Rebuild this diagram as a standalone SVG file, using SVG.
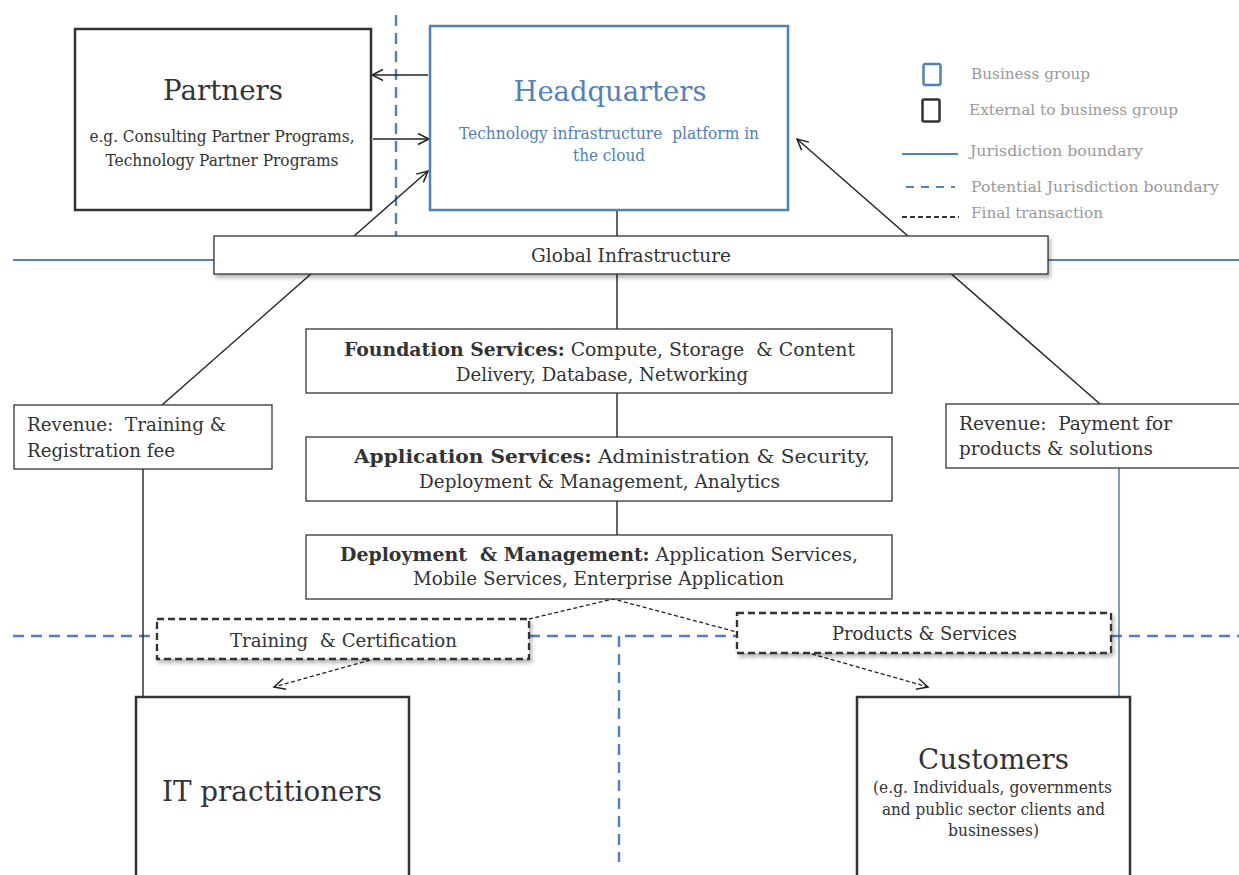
<svg xmlns="http://www.w3.org/2000/svg" width="1239" height="875" viewBox="0 0 1239 875">
<defs>
<style>
.t{font-family:"DejaVu Serif","Liberation Serif",serif;fill:#333}
.box{fill:#fff;stroke:#333;stroke-width:1.3}
.ext{fill:#fff;stroke:#333;stroke-width:2.5}
.bg{fill:#fff;stroke:#4f81bd;stroke-width:2.5}
.dbox{fill:#fff;stroke:#333;stroke-width:2.3;stroke-dasharray:7 4}
.conn{fill:none;stroke:#222;stroke-width:1.4}
.dconn{fill:none;stroke:#222;stroke-width:1.3;stroke-dasharray:4 2.5}
.jb{fill:none;stroke:#4f81bd;stroke-width:2.2}
.pjb{fill:none;stroke:#4f81bd;stroke-width:2.4;stroke-dasharray:11 7}
.leg{font-family:"DejaVu Serif","Liberation Serif",serif;fill:#999;font-size:14.5px}
</style>
<marker id="ah" markerWidth="14" markerHeight="14" refX="12" refY="6" orient="auto" markerUnits="userSpaceOnUse">
<path d="M1,0.5 L12,6 L1,11.5" fill="none" stroke="#222" stroke-width="1.5"/>
</marker>
<filter id="sh" x="-5%" y="-20%" width="110%" height="160%">
<feDropShadow dx="2" dy="3" stdDeviation="2" flood-color="#000" flood-opacity="0.3"/>
</filter>
</defs>
<rect width="1239" height="875" fill="#fff"/>

<g id="boundaries">
<line class="pjb" x1="396" y1="15" x2="396" y2="236"/>
<line class="jb" x1="13" y1="260" x2="214" y2="260"/>
<line class="jb" x1="1048" y1="260" x2="1239" y2="260"/>
<line class="pjb" x1="13" y1="636" x2="157" y2="636"/>
<polyline class="pjb" points="529,636 619,636 619,862"/>
<line class="pjb" x1="625" y1="636" x2="737" y2="636"/>
<line class="pjb" x1="1111" y1="636" x2="1239" y2="636"/>
</g>

<g id="connectors">
<line class="conn" x1="428" y1="75" x2="372" y2="75" marker-end="url(#ah)"/>
<line class="conn" x1="373" y1="139" x2="429" y2="139" marker-end="url(#ah)"/>
<line class="conn" x1="162" y1="405" x2="428" y2="171" marker-end="url(#ah)"/>
<line class="conn" x1="1100" y1="404" x2="797" y2="139" marker-end="url(#ah)"/>
<line class="conn" x1="617" y1="210" x2="617" y2="236"/>
<line class="conn" x1="617" y1="274" x2="617" y2="535"/>
<line class="conn" x1="143" y1="469" x2="143" y2="697" stroke-width="1.1"/>
<line x1="1119" y1="468" x2="1119" y2="696" stroke="#1f5f9f" stroke-width="1.2"/>
<polyline class="dconn" points="529,619 613,599 737,632"/>
<line class="dconn" x1="370" y1="660" x2="274" y2="687" marker-end="url(#ah)"/>
<line class="dconn" x1="812" y1="654" x2="928" y2="687" marker-end="url(#ah)"/>
</g>

<g id="partners">
<rect class="ext" x="75" y="29" width="296" height="181"/>
<text class="t" x="223" y="100" font-size="28" text-anchor="middle" textLength="120" lengthAdjust="spacingAndGlyphs">Partners</text>
<text class="t" x="222" y="142" font-size="16" text-anchor="middle" textLength="265" lengthAdjust="spacingAndGlyphs">e.g. Consulting Partner Programs,</text>
<text class="t" x="222" y="166" font-size="16" text-anchor="middle" textLength="233" lengthAdjust="spacingAndGlyphs">Technology Partner Programs</text>
</g>

<g id="headquarters">
<rect class="bg" x="430" y="26" width="358" height="184"/>
<text class="t" x="610" y="101" font-size="28" text-anchor="middle" style="fill:#4f81bd" textLength="193" lengthAdjust="spacingAndGlyphs">Headquarters</text>
<text class="t" x="609" y="139" font-size="16" text-anchor="middle" style="fill:#4f81bd" textLength="300" lengthAdjust="spacingAndGlyphs" xml:space="preserve">Technology infrastructure  platform in</text>
<text class="t" x="609" y="161" font-size="16" text-anchor="middle" style="fill:#4f81bd" textLength="72" lengthAdjust="spacingAndGlyphs">the cloud</text>
</g>

<g id="legend">
<rect x="923.5" y="64" width="17" height="21" rx="2" fill="none" stroke="#4f81bd" stroke-width="2.5"/>
<text class="leg" x="971" y="79" textLength="119" lengthAdjust="spacingAndGlyphs">Business group</text>
<rect x="922.5" y="99.5" width="17" height="22" rx="1.5" fill="none" stroke="#333" stroke-width="2.5"/>
<text class="leg" x="969" y="115" textLength="209" lengthAdjust="spacingAndGlyphs">External to business group</text>
<line x1="902" y1="154" x2="958" y2="154" stroke="#4f81bd" stroke-width="2.2"/>
<text class="leg" x="970" y="156" textLength="173" lengthAdjust="spacingAndGlyphs">Jurisdiction boundary</text>
<line x1="906" y1="187" x2="955" y2="187" stroke="#4f81bd" stroke-width="2.2" stroke-dasharray="8 7"/>
<text class="leg" x="971" y="192" textLength="248" lengthAdjust="spacingAndGlyphs">Potential Jurisdiction boundary</text>
<line x1="902" y1="217" x2="959" y2="217" stroke="#333" stroke-width="2" stroke-dasharray="5 3"/>
<text class="leg" x="971" y="218" textLength="132" lengthAdjust="spacingAndGlyphs">Final transaction</text>
</g>

<g id="global-infrastructure">
<rect class="box" x="214" y="236" width="834" height="38" filter="url(#sh)"/>
<text class="t" x="631" y="262" font-size="18.5" text-anchor="middle" textLength="200" lengthAdjust="spacingAndGlyphs">Global Infrastructure</text>
</g>

<g id="foundation-services">
<rect class="box" x="306" y="329" width="586" height="64"/>
<text class="t" x="599.5" y="356" font-size="18" text-anchor="middle" textLength="511" lengthAdjust="spacingAndGlyphs" xml:space="preserve"><tspan font-weight="bold">Foundation Services:</tspan> Compute, Storage  &amp; Content</text>
<text class="t" x="602" y="381" font-size="18" text-anchor="middle" textLength="292" lengthAdjust="spacingAndGlyphs">Delivery, Database, Networking</text>
</g>

<g id="application-services">
<rect class="box" x="306" y="437" width="586" height="64"/>
<text class="t" x="612" y="463" font-size="18" text-anchor="middle" textLength="516" lengthAdjust="spacingAndGlyphs"><tspan font-weight="bold">Application Services:</tspan> Administration &amp; Security,</text>
<text class="t" x="599.5" y="488" font-size="18" text-anchor="middle" textLength="361" lengthAdjust="spacingAndGlyphs">Deployment &amp; Management, Analytics</text>
</g>

<g id="deployment-management">
<rect class="box" x="306" y="535" width="586" height="64"/>
<text class="t" x="599" y="561" font-size="18" text-anchor="middle" textLength="518" lengthAdjust="spacingAndGlyphs" xml:space="preserve"><tspan font-weight="bold">Deployment  &amp; Management:</tspan> Application Services,</text>
<text class="t" x="598.5" y="585" font-size="18" text-anchor="middle" textLength="371" lengthAdjust="spacingAndGlyphs">Mobile Services, Enterprise Application</text>
</g>

<g id="revenue-training">
<rect class="box" x="14" y="405" width="258" height="64"/>
<text class="t" x="27" y="431" font-size="18" textLength="199" lengthAdjust="spacingAndGlyphs" xml:space="preserve">Revenue:  Training &amp;</text>
<text class="t" x="27" y="457" font-size="18" textLength="148" lengthAdjust="spacingAndGlyphs">Registration fee</text>
</g>

<g id="revenue-payment">
<rect class="box" x="946" y="404" width="300" height="64"/>
<text class="t" x="959" y="430" font-size="18" textLength="213" lengthAdjust="spacingAndGlyphs" xml:space="preserve">Revenue:  Payment for</text>
<text class="t" x="959" y="455" font-size="18" textLength="194" lengthAdjust="spacingAndGlyphs">products &amp; solutions</text>
</g>

<g id="training-certification">
<rect class="dbox" x="157" y="619" width="372" height="40" filter="url(#sh)"/>
<text class="t" x="343.5" y="647" font-size="18" text-anchor="middle" textLength="227" lengthAdjust="spacingAndGlyphs" xml:space="preserve">Training  &amp; Certification</text>
</g>

<g id="products-services">
<rect class="dbox" x="737" y="613" width="374" height="40" filter="url(#sh)"/>
<text class="t" x="924.5" y="640" font-size="18" text-anchor="middle" textLength="185" lengthAdjust="spacingAndGlyphs">Products &amp; Services</text>
</g>

<g id="it-practitioners">
<rect class="ext" x="136" y="697" width="273" height="200"/>
<text class="t" x="272" y="801" font-size="28" text-anchor="middle" textLength="220" lengthAdjust="spacingAndGlyphs">IT practitioners</text>
</g>

<g id="customers">
<rect class="ext" x="857" y="697" width="273" height="200"/>
<text class="t" x="993.5" y="769" font-size="28" text-anchor="middle" textLength="151" lengthAdjust="spacingAndGlyphs">Customers</text>
<text class="t" x="992.5" y="793" font-size="16" text-anchor="middle" textLength="239" lengthAdjust="spacingAndGlyphs">(e.g. Individuals, governments</text>
<text class="t" x="993.5" y="815" font-size="16" text-anchor="middle" textLength="223" lengthAdjust="spacingAndGlyphs">and public sector clients and</text>
<text class="t" x="993.5" y="836" font-size="16" text-anchor="middle" textLength="91" lengthAdjust="spacingAndGlyphs">businesses)</text>
</g>
</svg>
